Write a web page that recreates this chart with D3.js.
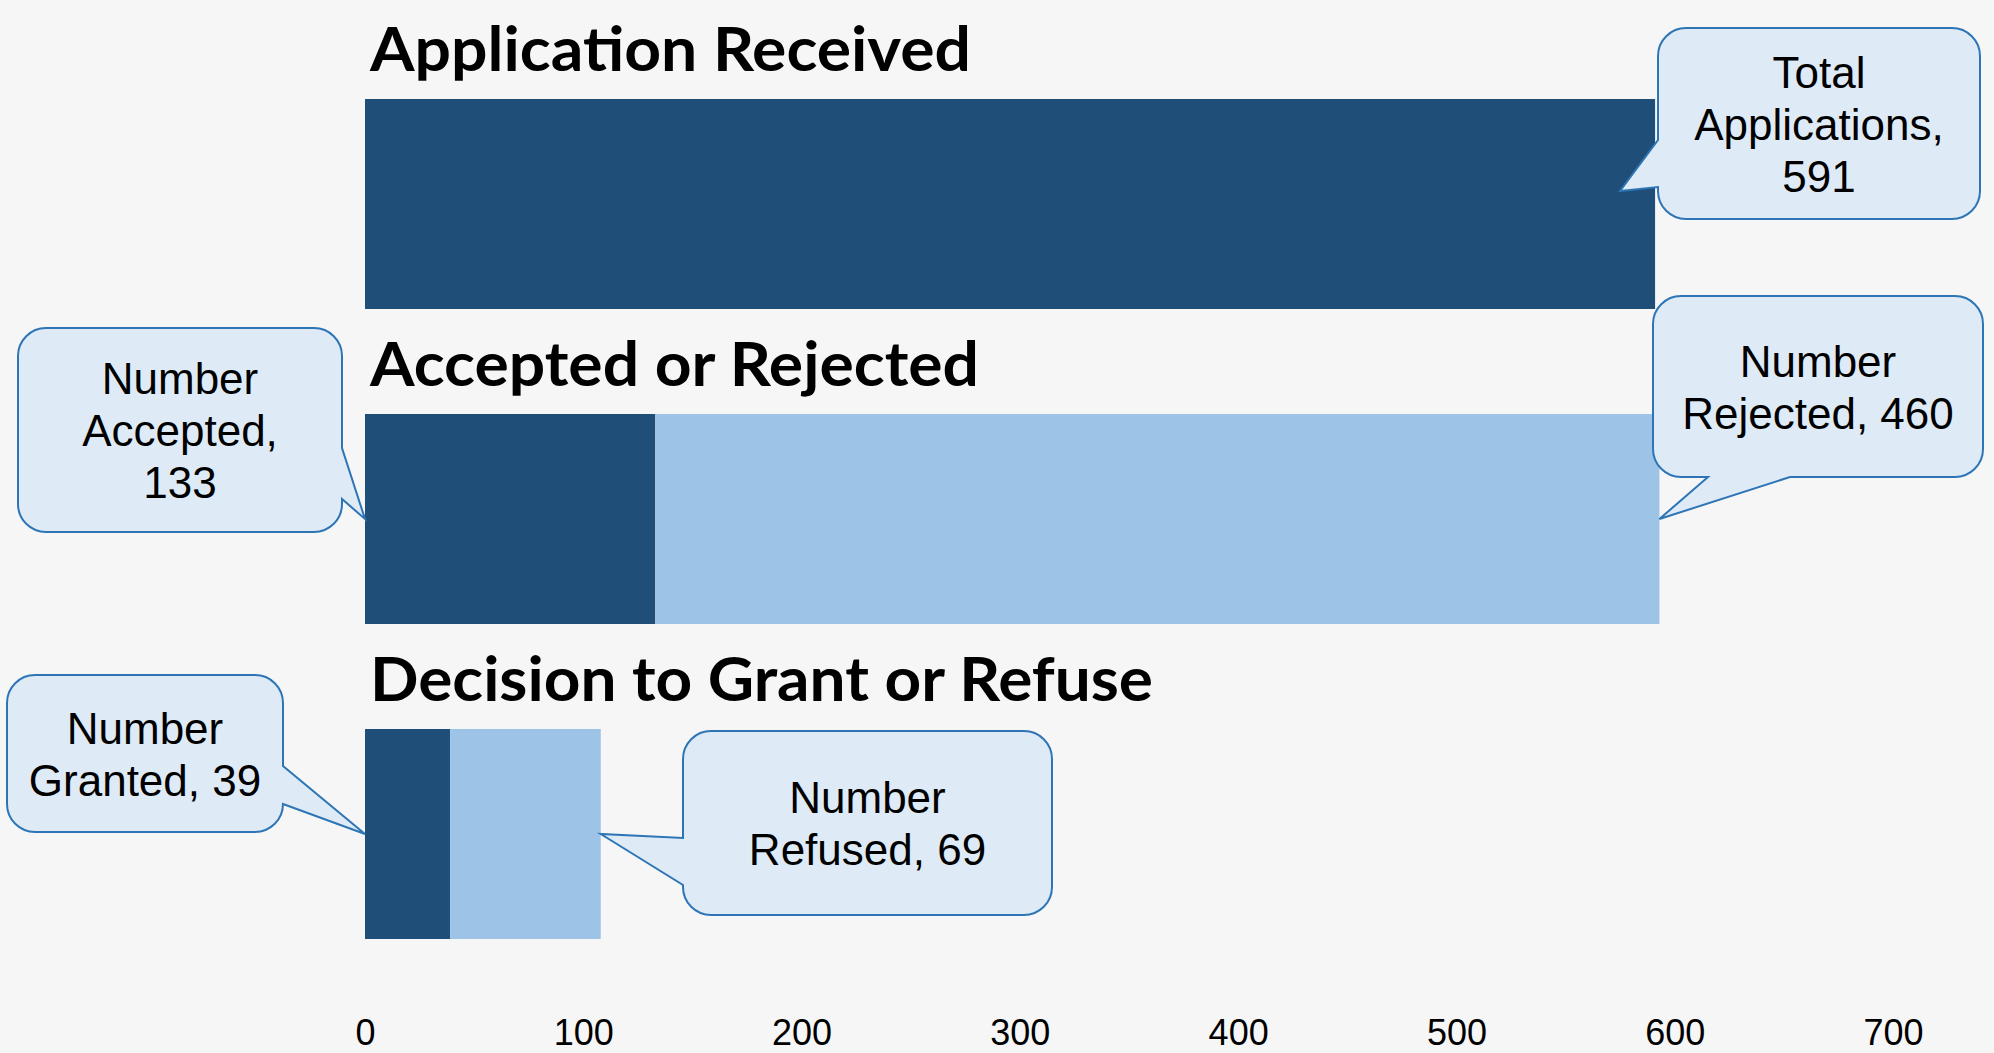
<!DOCTYPE html>
<html>
<head>
<meta charset="utf-8">
<script src="https://cdn.jsdelivr.net/npm/d3@7"></script>
<style>
  html, body { margin: 0; padding: 0; background: #f6f6f6; }
</style>
</head>
<body>
<div id="chart"></div>
<script>
// data
var stages = ["Application Received", "Accepted or Rejected", "Decision to Grant or Refuse"];
var firstPart = [591, 133, 39];   // dark segment
var secondPart = [0, 460, 69];    // light segment
var tickValues = [0, 100, 200, 300, 400, 500, 600, 700];

var calloutTexts = [
  ["Total", "Applications,", "591"],
  ["Number", "Accepted,", "133"],
  ["Number", "Rejected, 460"],
  ["Number", "Granted, 39"],
  ["Number", "Refused, 69"]
];

// size of the picture
var width = 1994, height = 1053;

var svg = d3.select("#chart")
  .append("svg")
    .attr("width", width)
    .attr("height", height)
    .style("background", "#f6f6f6");

// X scale
var x = d3.scaleLinear()
  .domain([0, 700])
  .range([365, 1893]);

// Y scale (one band per stage)
var y = d3.scaleBand()
  .domain(stages)
  .range([99, 939])
  .paddingInner(1 / 3)
  .paddingOuter(0);

var dark = "#1f4e79", light = "#9dc3e6";

// titles
svg.selectAll("text.title")
  .data(stages)
  .enter()
  .append("text")
    .attr("class", "title")
    .attr("x", 370)
    .attr("y", function(d) { return y(d) - 28; })
    .attr("font-family", "Lato, 'Open Sans', sans-serif")
    .attr("font-weight", "bold")
    .attr("font-size", "61px")
    .attr("fill", "#000")
    .attr("textLength", function(d, i) { return [601, 609, 783][i]; })
    .attr("lengthAdjust", "spacingAndGlyphs")
    .text(function(d) { return d; });

// dark bars
svg.selectAll("rect.first")
  .data(stages)
  .enter()
  .append("rect")
    .attr("class", "first")
    .attr("x", x(0))
    .attr("y", function(d) { return y(d); })
    .attr("width", function(d, i) { return x(firstPart[i]) - x(0); })
    .attr("height", y.bandwidth())
    .attr("fill", dark);

// light bars
svg.selectAll("rect.second")
  .data(stages)
  .enter()
  .append("rect")
    .attr("class", "second")
    .attr("x", function(d, i) { return x(firstPart[i]); })
    .attr("y", function(d) { return y(d); })
    .attr("width", function(d, i) { return x(firstPart[i] + secondPart[i]) - x(firstPart[i]); })
    .attr("height", y.bandwidth())
    .attr("fill", light);

// X axis, labels only
var axis = svg.append("g")
  .attr("transform", "translate(0,1019)")
  .call(d3.axisBottom(x).tickValues(tickValues).tickSize(0).tickPadding(0));
axis.select(".domain").remove();
axis.selectAll("text")
  .attr("y", 0)
  .attr("dy", "0.71em")
  .attr("font-family", "'Liberation Sans', Arial, sans-serif")
  .attr("font-size", "36px")
  .attr("fill", "#000");

// callouts: box layout and where the pointer goes
var mid = function(i) { return y(stages[i]) + y.bandwidth() / 2; };
var callouts = [
  {box: [1658, 28, 322, 191], side: "left", base: [140, 187], tip: [x(firstPart[0]) - 35, y(stages[0]) + 92]},
  {box: [18, 328, 324, 204], side: "right", base: [448, 499], tip: [x(0), mid(1)]},
  {box: [1653, 296, 330, 181], side: "bottom", base: [1708, 1790], tip: [x(firstPart[1] + secondPart[1]), mid(1)]},
  {box: [7, 675, 276, 157], side: "right", base: [766, 804], tip: [x(0), mid(2)]},
  {box: [683, 731, 369, 184], side: "left", base: [838, 885], tip: [x(firstPart[2] + secondPart[2]), mid(2)]}
];

function calloutPath(c) {
  var x0 = c.box[0], y0 = c.box[1], x1 = x0 + c.box[2], y1 = y0 + c.box[3];
  var r = 28, p = d3.path();
  p.moveTo(x0 + r, y0);
  p.lineTo(x1 - r, y0);
  p.arcTo(x1, y0, x1, y0 + r, r);
  if (c.side == "right") {
    p.lineTo(x1, c.base[0]);
    p.lineTo(c.tip[0], c.tip[1]);
    p.lineTo(x1, c.base[1]);
  }
  p.lineTo(x1, y1 - r);
  p.arcTo(x1, y1, x1 - r, y1, r);
  if (c.side == "bottom") {
    p.lineTo(c.base[1], y1);
    p.lineTo(c.tip[0], c.tip[1]);
    p.lineTo(c.base[0], y1);
  }
  p.lineTo(x0 + r, y1);
  p.arcTo(x0, y1, x0, y1 - r, r);
  if (c.side == "left") {
    p.lineTo(x0, c.base[1]);
    p.lineTo(c.tip[0], c.tip[1]);
    p.lineTo(x0, c.base[0]);
  }
  p.lineTo(x0, y0 + r);
  p.arcTo(x0, y0, x0 + r, y0, r);
  p.closePath();
  return p.toString();
}

svg.selectAll("path.callout")
  .data(callouts)
  .enter()
  .append("path")
    .attr("class", "callout")
    .attr("d", calloutPath)
    .attr("fill", "#deebf7")
    .attr("stroke", "#2e75b6")
    .attr("stroke-width", 2)
    .attr("stroke-linejoin", "miter");

// callout texts
callouts.forEach(function(c, i) {
  var lines = calloutTexts[i];
  var cx = c.box[0] + c.box[2] / 2;
  var cy = c.box[1] + c.box[3] / 2;
  svg.append("text")
    .attr("text-anchor", "middle")
    .attr("font-family", "'Liberation Sans', Arial, sans-serif")
    .attr("font-size", "44px")
    .attr("fill", "#000")
    .selectAll("tspan")
    .data(lines)
    .enter()
    .append("tspan")
      .attr("x", cx)
      .attr("y", function(d, j) { return cy + 16 + (j - (lines.length - 1) / 2) * 52; })
      .text(function(d) { return d; });
});
</script>
</body>
</html>
